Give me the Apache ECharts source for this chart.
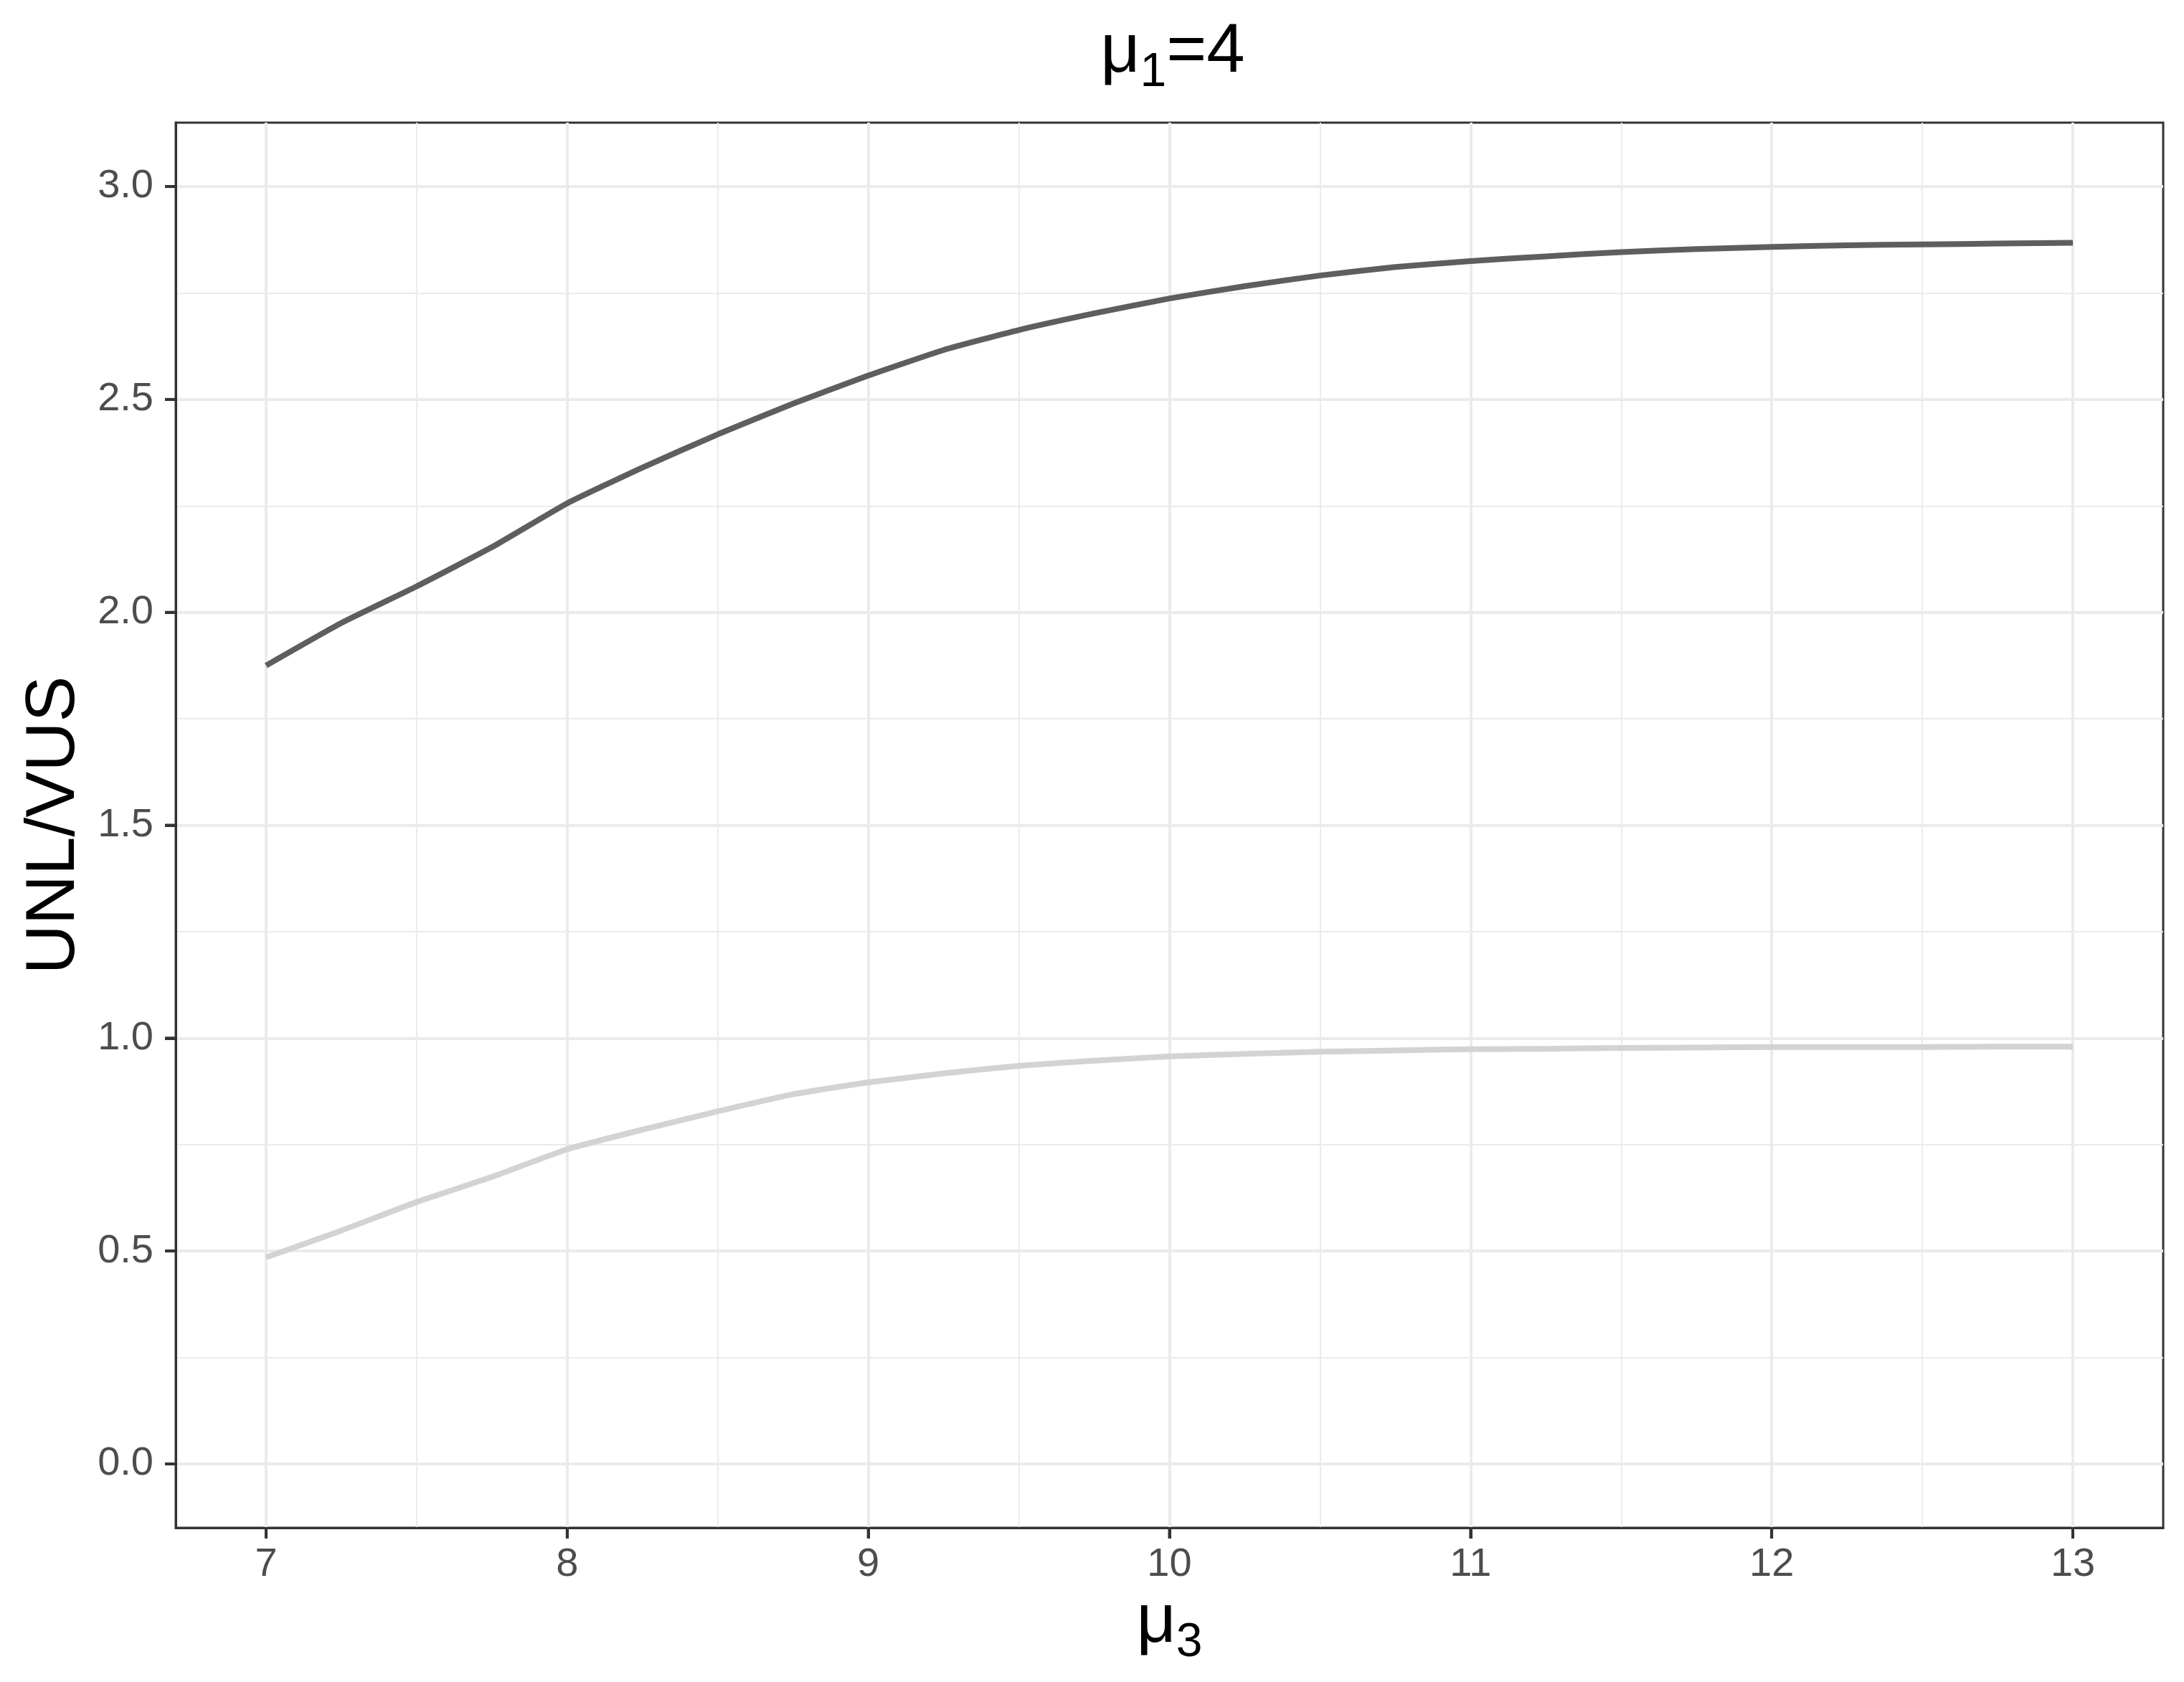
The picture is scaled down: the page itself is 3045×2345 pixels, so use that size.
<!DOCTYPE html>
<html>
<head>
<meta charset="utf-8">
<script src="https://cdn.jsdelivr.net/npm/echarts@6/dist/echarts.min.js"></script>
<style>
  html, body { margin: 0; padding: 0; background: #fff; }
  #main { width: 3045px; height: 2345px; }
</style>
</head>
<body>
<div id="main"></div>
<script>
// mu3 values along the x axis
var mu3 = [7, 7.25, 7.5, 7.75, 8, 8.25, 8.5, 8.75, 9, 9.25, 9.5, 9.75, 10,
           10.25, 10.5, 10.75, 11, 11.25, 11.5, 11.75, 12, 12.25, 12.5, 12.75, 13];
// upper (dark) curve
var unlDark = [1.875, 1.975, 2.061, 2.153, 2.256, 2.340, 2.418, 2.490, 2.556, 2.616, 2.663, 2.702, 2.737,
               2.766, 2.791, 2.811, 2.825, 2.836, 2.846, 2.853, 2.858, 2.862, 2.864, 2.866, 2.868];
// lower (light) curve
var unlLight = [0.485, 0.548, 0.615, 0.674, 0.739, 0.785, 0.828, 0.868, 0.896, 0.917, 0.935, 0.947, 0.957,
                0.963, 0.968, 0.971, 0.974, 0.975, 0.977, 0.978, 0.979, 0.979, 0.979, 0.980, 0.980];
var xTicks = [7, 8, 9, 10, 11, 12, 13];
var xMinor = [7.5, 8.5, 9.5, 10.5, 11.5, 12.5];
var yTicks = [0, 0.5, 1, 1.5, 2, 2.5, 3];
var yMinor = [0.25, 0.75, 1.25, 1.75, 2.25, 2.75];

var FONT = 'Liberation Sans, Arial, sans-serif';
var GRID_COLOR = '#EBEBEB';
var AXIS_COLOR = '#333333';
var TICK_LEN = 15;

function pairs(xs, ys) {
    return xs.map(function (x, i) { return [x, ys[i]]; });
}

var subRich = {
    m: { fontSize: 96, fontFamily: FONT, color: '#000', fontWeight: 'normal' },
    s: { fontSize: 66, fontFamily: FONT, color: '#000', fontWeight: 'normal', padding: [56, 0, 0, 0] }
};

// tick marks outside the panel, placed through the axis scales
function xTickItem(params, api) {
    var px = api.coord([api.value(0), api.value(1)])[0];
    var yb = params.coordSys.y + params.coordSys.height;
    return { type: 'line', shape: { x1: px, y1: yb, x2: px, y2: yb + TICK_LEN },
             style: { stroke: AXIS_COLOR, lineWidth: 4 } };
}
function yTickItem(params, api) {
    var py = api.coord([api.value(0), api.value(1)])[1];
    var xl = params.coordSys.x;
    return { type: 'line', shape: { x1: xl - TICK_LEN, y1: py, x2: xl, y2: py },
             style: { stroke: AXIS_COLOR, lineWidth: 4 } };
}

var myChart = echarts.init(document.getElementById('main'));
myChart.setOption({
    animation: false,
    title: {
        text: '{m|μ}{s|1}{m|=4}',
        left: 1630,
        top: 8,
        textAlign: 'center',
        textStyle: { fontWeight: 'normal', rich: subRich }
    },
    grid: {
        left: 245, right: 29, top: 171, bottom: 215,
        show: true, borderColor: AXIS_COLOR, borderWidth: 3
    },
    xAxis: [{
        type: 'value', min: 6.7, max: 13.3, position: 'bottom',
        axisLine: { show: true, onZero: false, lineStyle: { color: AXIS_COLOR, width: 3 } },
        axisTick: { show: true, customValues: xTicks, length: TICK_LEN, lineStyle: { color: AXIS_COLOR, width: 4 } },
        axisLabel: { customValues: xTicks, margin: 24, fontSize: 56, color: '#4D4D4D', fontFamily: FONT },
        splitLine: { show: true, lineStyle: { color: GRID_COLOR, width: 4 } },
        name: '{m|μ}{s|3}',
        nameLocation: 'middle',
        nameGap: 70,
        nameTextStyle: { rich: subRich }
    }, {
        type: 'value', min: 6.7, max: 13.3, position: 'bottom',
        axisLine: { show: false, onZero: false },
        axisTick: { show: false, customValues: xMinor },
        axisLabel: { show: false, customValues: xMinor },
        splitLine: { show: true, lineStyle: { color: GRID_COLOR, width: 2 } }
    }],
    yAxis: [{
        type: 'value', min: -0.15, max: 3.15, position: 'left',
        axisLine: { show: true, onZero: false, lineStyle: { color: AXIS_COLOR, width: 3 } },
        axisTick: { show: true, customValues: yTicks, length: TICK_LEN, lineStyle: { color: AXIS_COLOR, width: 4 } },
        axisLabel: {
            customValues: yTicks, margin: 31, fontSize: 56, color: '#4D4D4D', fontFamily: FONT,
            formatter: function (v) { return v.toFixed(1); }
        },
        splitLine: { show: true, lineStyle: { color: GRID_COLOR, width: 4 } },
        name: 'UNL/VUS',
        nameLocation: 'middle',
        nameGap: 120,
        nameTextStyle: { fontSize: 96, color: '#000', fontFamily: FONT }
    }, {
        type: 'value', min: -0.15, max: 3.15, position: 'left',
        axisLine: { show: false, onZero: false },
        axisTick: { show: false, customValues: yMinor },
        axisLabel: { show: false, customValues: yMinor },
        splitLine: { show: true, lineStyle: { color: GRID_COLOR, width: 2 } }
    }],
    series: [{
        type: 'line', name: 'dark', xAxisIndex: 0, yAxisIndex: 0,
        data: pairs(mu3, unlDark),
        showSymbol: false, smooth: 0.15,
        lineStyle: { color: '#5E5E5E', width: 8, cap: 'butt', join: 'round' }
    }, {
        type: 'line', name: 'light', xAxisIndex: 0, yAxisIndex: 0,
        data: pairs(mu3, unlLight),
        showSymbol: false, smooth: 0.15,
        lineStyle: { color: '#D3D3D3', width: 8, cap: 'butt', join: 'round' }
    }, {
        type: 'custom', name: 'xticks', xAxisIndex: 0, yAxisIndex: 0,
        data: xTicks.map(function (v) { return [v, yTicks[0]]; }),
        renderItem: xTickItem, clip: false, silent: true, z: 10
    }, {
        type: 'custom', name: 'yticks', xAxisIndex: 0, yAxisIndex: 0,
        data: yTicks.map(function (v) { return [xTicks[0], v]; }),
        renderItem: yTickItem, clip: false, silent: true, z: 10
    }]
});
</script>
</body>
</html>
